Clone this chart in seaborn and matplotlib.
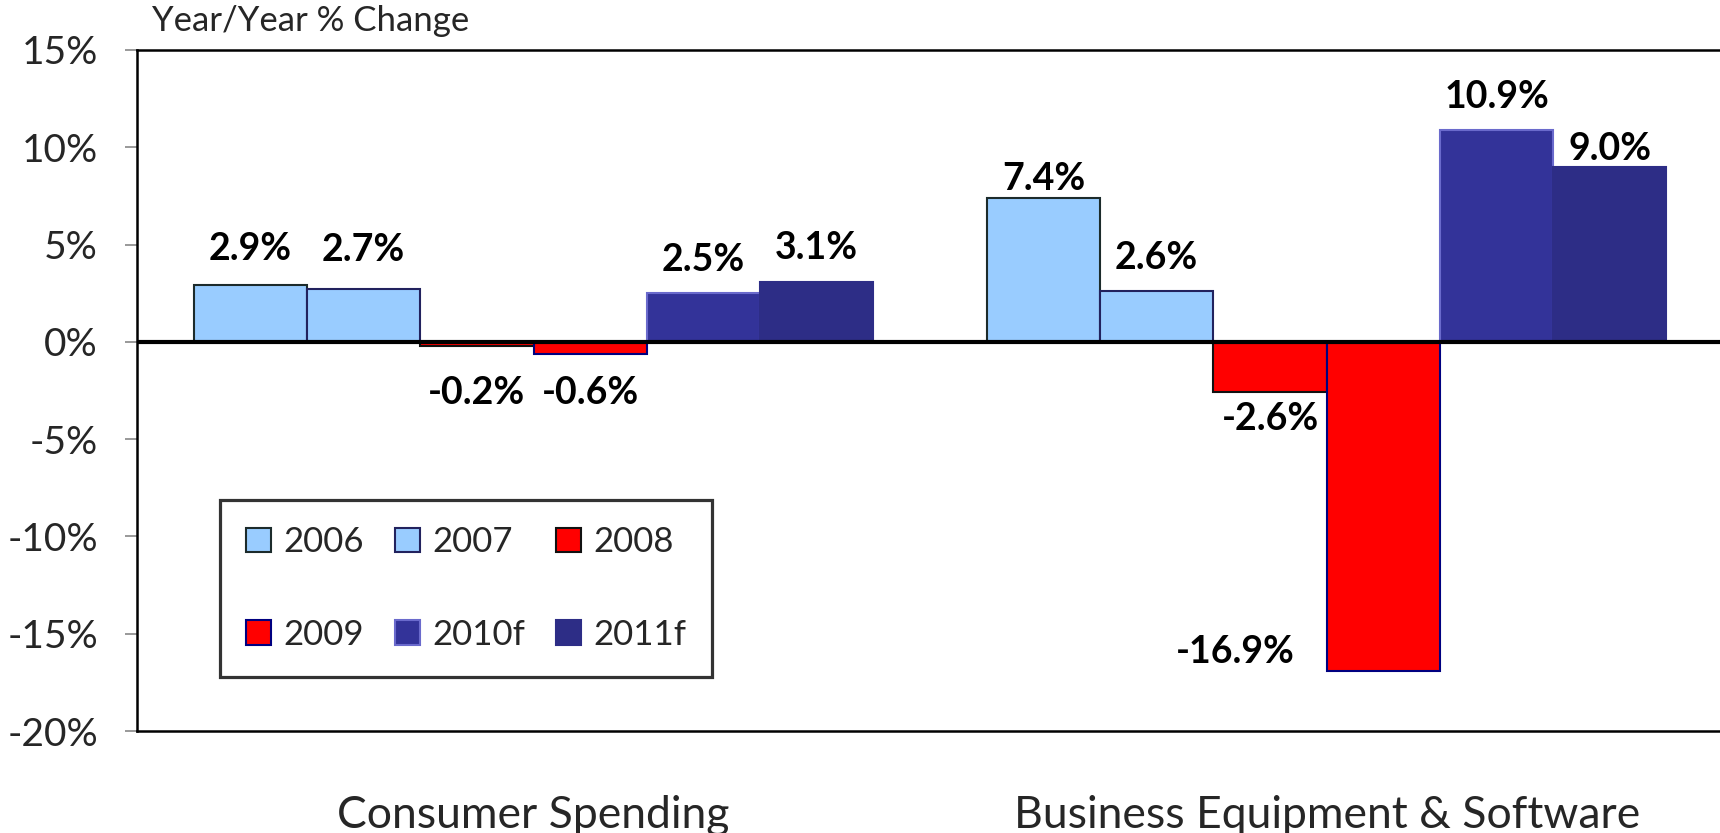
import numpy as np
import pandas as pd
import matplotlib
matplotlib.use('Agg')
import matplotlib.pyplot as plt
import seaborn as sns
from matplotlib.patches import Patch

# 数据
categories = ['Consumer Spending', 'Business Equipment & Software']
years = ['2006', '2007', '2008', '2009', '2010f', '2011f']
consumer_values = [2.9, 2.7, -0.2, -0.6, 2.5, 3.1]
business_values = [7.4, 2.6, -2.6, -16.9, 10.9, 9.0]
y_ticks = [-20, -15, -10, -5, 0, 5, 10, 15]

# 样式
fill_colors = ['#99CCFF', '#99CCFF', '#FF0000', '#FF0000', '#333399', '#2D2D86']
edge_colors = ['#1c2b2b', '#22225e', '#111111', '#000080', '#6a6acc', '#2D2D86']
# 数值标签偏移 (像素), 每个类别一行
label_offsets = [
    [(0, 36), (0, 39), (0, -47), (0, -39), (0, 33), (0, 34)],
    [(0, 19), (0, 33), (0, -27), (-148, 19), (0, 33), (0, 18)],
]

df = pd.DataFrame({
    'category': np.repeat(categories, len(years)),
    'year': years * len(categories),
    'value': consumer_values + business_values,
})

sns.set_theme(style='white')
plt.rcParams['font.family'] = ['Lato', 'DejaVu Sans']

fig = plt.figure(figsize=(17.2, 8.33), dpi=100)
ax = fig.add_axes([0.0797, 0.1224, 0.9203, 0.8176])

sns.barplot(data=df, x='category', y='value', hue='year', hue_order=years,
            palette=fill_colors, saturation=1, width=0.857, ax=ax, legend=False)

for i, cont in enumerate(ax.containers):
    for j, bar in enumerate(cont):
        bar.set_edgecolor(edge_colors[i])
        bar.set_linewidth(1.5)
        val = bar.get_height()
        dx, dy = label_offsets[j][i]
        ax.annotate(f'{val:.1f}%', (bar.get_x() + bar.get_width() / 2, val),
                    xytext=(dx, dy), textcoords='offset pixels',
                    ha='center', va='center', fontsize=27, fontweight='bold',
                    color='black')

ax.axhline(0, color='black', lw=3, zorder=5)
ax.set_ylim(-20, 15)
ax.set_xlim(-0.5, 1.496)
ax.set_yticks(y_ticks)
ax.set_yticklabels([f'{t}%' for t in y_ticks])
ax.set_xlabel('')
ax.set_ylabel('')
ax.tick_params(axis='y', which='both', left=True, length=8.6, width=1.2,
               color='#888888', pad=19.5, labelsize=28)
ax.tick_params(axis='x', bottom=False, pad=40, labelsize=32)

for side in ['left', 'top', 'bottom']:
    ax.spines[side].set_color('black')
    ax.spines[side].set_linewidth(1.8)
ax.spines['right'].set_visible(False)

handles = [Patch(facecolor=fill_colors[k], edgecolor=edge_colors[k], linewidth=1.5, label=years[k])
           for k in range(len(years))]
# 按行排列图例
order = [0, 3, 1, 4, 2, 5]
leg = ax.legend(handles=[handles[k] for k in order], ncol=3, loc='upper left',
                bbox_to_anchor=(0.0524, 0.339), fontsize=25, frameon=True,
                fancybox=False, handlelength=0.72, handleheight=0.72,
                handletextpad=0.35, columnspacing=0.9, labelspacing=1.75,
                borderpad=0.75, borderaxespad=0)
leg.get_frame().set_edgecolor('black')
leg.get_frame().set_linewidth(2.3)

fig.text(0.0884, 0.963, 'Year/Year % Change', fontsize=25, ha='left', va='baseline')

fig.savefig('out.png', dpi=100)
plt.close(fig)
